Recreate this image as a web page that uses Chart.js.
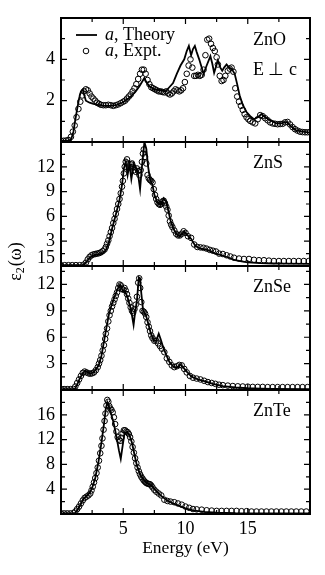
<!DOCTYPE html>
<html><head><meta charset="utf-8">
<script src="https://cdn.jsdelivr.net/npm/chart.js@4/dist/chart.umd.min.js"></script>
<style>html,body{margin:0;padding:0;background:#fff;}canvas{display:block;}</style>
</head><body>
<canvas id="c" width="325" height="575"></canvas>
<script>
// ---------- DATA ----------
const energyTickLabels = [5, 10, 15];
const panelNames = ['ZnO', 'ZnS', 'ZnSe', 'ZnTe'];
const znoTickLabels = [2, 4];
const znsTickLabels = [3, 6, 9, 12];
const znseTickLabels = [3, 6, 9, 12];
const znteTickLabels = [4, 8, 12, 16];

const znoTheory = [[0,0.05],[0.5,0.06],[0.8,0.1],[1.0,0.5],[1.1,0.9],[1.3,1.6],[1.45,2.1],[1.6,2.45],[1.75,2.55],[1.85,2.3],[2.0,2.0],[2.3,1.9],[2.6,1.85],[3.0,1.8],[3.5,1.75],[4.0,1.75],[4.5,1.8],[4.9,1.9],[5.3,2.05],[5.6,2.2],[6.0,2.45],[6.3,2.7],[6.55,2.95],[6.7,3.1],[6.85,2.9],[7.1,2.7],[7.5,2.55],[8.0,2.5],[8.4,2.45],[8.7,2.65],[9.0,2.85],[9.3,3.3],[9.6,3.7],[9.9,4.0],[10.1,4.4],[10.27,4.65],[10.45,4.2],[10.6,4.5],[10.75,4.65],[10.9,4.35],[11.1,4.0],[11.3,3.6],[11.45,3.3],[11.7,3.7],[12.0,4.15],[12.15,3.8],[12.3,3.35],[12.6,3.95],[12.8,3.6],[12.95,3.45],[13.1,3.6],[13.3,3.75],[13.5,3.6],[13.7,3.55],[13.95,3.3],[14.15,2.8],[14.35,2.25],[14.6,1.8],[14.9,1.45],[15.2,1.25],[15.5,1.1],[15.8,1.2],[16.1,1.35],[16.4,1.2],[16.8,1.05],[17.3,0.9],[17.7,0.9],[18.1,0.97],[18.5,0.75],[18.9,0.56],[19.4,0.5],[20,0.45]];
const znoExpt = [[0,0.05],[0.2,0.06],[0.4,0.07],[0.6,0.1],[0.8,0.25],[0.95,0.5],[1.1,0.8],[1.25,1.2],[1.4,1.6],[1.55,1.95],[1.7,2.25],[1.85,2.45],[2.0,2.55],[2.15,2.5],[2.3,2.35],[2.45,2.2],[2.6,2.1],[2.75,2.0],[2.9,1.9],[3.05,1.85],[3.2,1.8],[3.4,1.78],[3.6,1.78],[3.8,1.8],[4.0,1.78],[4.2,1.75],[4.4,1.78],[4.6,1.82],[4.8,1.88],[5.0,1.95],[5.15,2.0],[5.3,2.1],[5.45,2.2],[5.6,2.3],[5.75,2.45],[5.9,2.6],[6.05,2.8],[6.2,3.05],[6.35,3.3],[6.5,3.5],[6.65,3.5],[6.8,3.3],[6.95,3.0],[7.1,2.8],[7.25,2.65],[7.4,2.6],[7.55,2.55],[7.7,2.5],[7.85,2.45],[8.0,2.45],[8.15,2.42],[8.3,2.4],[8.45,2.45],[8.6,2.35],[8.75,2.3],[8.9,2.35],[9.05,2.45],[9.2,2.55],[9.35,2.5],[9.5,2.45],[9.65,2.5],[9.8,2.6],[9.95,2.9],[10.1,3.3],[10.25,3.7],[10.4,4.0],[10.55,3.6],[10.7,3.2],[10.85,3.2],[11.0,3.25],[11.15,3.2],[11.3,3.25],[11.45,3.5],[11.6,4.2],[11.75,4.95],[11.9,5.0],[12.05,4.75],[12.2,4.55],[12.35,4.4],[12.5,4.1],[12.6,3.75],[12.75,3.2],[12.9,2.95],[13.05,3.0],[13.2,3.2],[13.4,3.45],[13.55,3.55],[13.7,3.6],[13.85,3.4],[14.0,2.6],[14.15,2.2],[14.3,1.95],[14.45,1.75],[14.6,1.55],[14.75,1.35],[14.9,1.2],[15.05,1.1],[15.2,1.02],[15.4,0.95],[15.6,0.9],[15.8,1.1],[16.0,1.3],[16.2,1.25],[16.4,1.15],[16.6,1.05],[16.8,0.95],[17.0,0.9],[17.2,0.88],[17.4,0.86],[17.6,0.87],[17.8,0.88],[18.0,0.95],[18.2,0.97],[18.4,0.85],[18.6,0.72],[18.8,0.62],[19.0,0.55],[19.2,0.5],[19.4,0.48],[19.6,0.47],[19.8,0.47],[20.0,0.48]];

const znsTheory = [[0,0.1],[1.8,0.1],[2.0,0.4],[2.3,1.0],[2.6,1.3],[3.0,1.4],[3.3,1.5],[3.6,1.9],[3.85,2.9],[4.1,4.5],[4.4,6.2],[4.7,8.0],[4.9,9.8],[5.05,11.8],[5.2,12.6],[5.35,11.0],[5.5,12.3],[5.65,10.5],[5.85,12.4],[6.05,11.8],[6.2,11.0],[6.35,9.3],[6.5,12.0],[6.7,15.0],[6.85,14.2],[7.0,12.0],[7.15,10.5],[7.35,9.8],[7.5,8.6],[7.75,7.7],[8.0,7.4],[8.25,8.2],[8.45,7.8],[8.6,6.8],[8.8,5.5],[9.0,4.6],[9.25,3.9],[9.5,3.6],[9.75,3.9],[9.9,4.2],[10.1,3.8],[10.45,3.3],[10.8,2.4],[11.2,2.1],[11.6,2.0],[12.0,1.8],[12.4,1.5],[12.9,1.3],[13.5,1.0],[14.0,0.7],[14.5,0.55],[15.0,0.45],[16.0,0.35],[17,0.3],[18,0.28],[20,0.25]];
const znsExpt = [[0,0.1],[0.3,0.1],[0.6,0.1],[0.9,0.1],[1.2,0.1],[1.5,0.1],[1.8,0.15],[2.0,0.4],[2.15,0.8],[2.3,1.1],[2.45,1.3],[2.6,1.4],[2.75,1.45],[2.9,1.5],[3.05,1.55],[3.2,1.65],[3.35,1.8],[3.5,2.0],[3.6,2.3],[3.7,2.7],[3.8,3.1],[3.9,3.6],[4.0,4.1],[4.1,4.6],[4.2,5.2],[4.3,5.7],[4.4,6.3],[4.5,6.9],[4.6,7.5],[4.7,8.1],[4.8,8.8],[4.9,9.6],[4.97,10.3],[5.05,11.2],[5.12,12.0],[5.2,12.6],[5.3,12.9],[5.4,12.4],[5.5,12.0],[5.6,12.3],[5.7,12.4],[5.8,12.0],[5.9,11.6],[6.0,11.4],[6.1,11.8],[6.2,11.5],[6.3,11.0],[6.4,11.6],[6.5,12.6],[6.58,13.6],[6.65,14.1],[6.75,13.2],[6.85,12.4],[6.95,11.0],[7.05,10.6],[7.15,10.4],[7.25,10.3],[7.35,10.1],[7.45,9.3],[7.55,8.6],[7.65,8.1],[7.75,7.7],[7.85,7.5],[7.95,7.4],[8.05,7.5],[8.15,7.8],[8.25,7.9],[8.35,7.6],[8.45,7.2],[8.55,6.8],[8.65,6.1],[8.75,5.4],[8.85,5.0],[8.95,4.7],[9.1,4.3],[9.25,3.9],[9.4,3.7],[9.55,3.7],[9.7,3.9],[9.85,4.2],[10.0,4.0],[10.2,3.6],[10.45,3.4],[10.7,2.6],[10.95,2.3],[11.2,2.25],[11.45,2.2],[11.7,2.1],[11.95,1.95],[12.2,1.85],[12.45,1.75],[12.7,1.5],[13.0,1.45],[13.3,1.3],[13.6,1.15],[13.9,1.0],[14.3,0.9],[14.7,0.85],[15.1,0.85],[15.5,0.75],[15.9,0.7],[16.3,0.7],[16.7,0.65],[17.1,0.6],[17.5,0.6],[17.9,0.6],[18.3,0.6],[18.7,0.6],[19.1,0.6],[19.5,0.6],[19.9,0.6]];

const znseTheory = [[0,0.1],[1.1,0.1],[1.3,0.6],[1.5,1.3],[1.75,1.9],[1.95,2.2],[2.15,2.0],[2.35,1.85],[2.6,2.0],[2.85,2.4],[3.05,2.9],[3.25,3.9],[3.45,5.5],[3.65,7.1],[3.85,8.6],[4.05,9.6],[4.3,10.6],[4.55,11.5],[4.75,12.0],[4.95,11.3],[5.15,11.2],[5.35,10.5],[5.55,9.5],[5.7,8.5],[5.83,7.4],[5.95,8.8],[6.1,10.2],[6.25,12.8],[6.35,12.7],[6.45,11.0],[6.6,9.0],[6.8,8.6],[7.0,7.6],[7.2,6.5],[7.45,5.6],[7.65,5.6],[7.85,6.4],[8.0,5.8],[8.2,4.9],[8.45,4.0],[8.7,3.2],[9.0,2.7],[9.3,2.55],[9.6,2.9],[9.8,2.6],[10.1,2.1],[10.5,1.5],[11.0,1.2],[11.5,1.0],[12.2,0.7],[13,0.45],[14,0.3],[15,0.2],[16,0.15],[17,0.12],[20,0.1]];
const znseExpt = [[0,0.1],[0.25,0.1],[0.5,0.1],[0.75,0.1],[1.0,0.12],[1.15,0.4],[1.3,0.8],[1.45,1.2],[1.6,1.6],[1.75,1.95],[1.9,2.1],[2.05,2.0],[2.2,1.9],[2.35,1.85],[2.5,1.9],[2.65,2.0],[2.8,2.25],[2.95,2.6],[3.05,3.0],[3.15,3.4],[3.25,3.9],[3.35,4.5],[3.45,5.1],[3.55,5.8],[3.6,6.4],[3.7,7.0],[3.8,7.8],[3.9,8.5],[4.0,9.0],[4.1,9.5],[4.2,9.9],[4.3,10.3],[4.4,10.7],[4.5,11.1],[4.6,11.6],[4.7,12.0],[4.8,11.9],[4.9,11.5],[5.0,11.4],[5.1,11.6],[5.2,11.3],[5.3,10.9],[5.4,10.4],[5.5,9.9],[5.6,9.4],[5.7,9.0],[5.8,8.8],[5.9,9.2],[6.0,9.7],[6.1,10.6],[6.2,12.2],[6.28,12.7],[6.36,11.6],[6.45,10.0],[6.55,9.0],[6.65,8.9],[6.75,8.7],[6.85,8.3],[6.95,7.7],[7.05,7.2],[7.15,6.7],[7.25,6.2],[7.35,5.9],[7.5,5.6],[7.65,5.6],[7.8,5.3],[7.95,5.0],[8.1,4.7],[8.3,4.3],[8.5,3.6],[8.7,3.2],[8.9,2.8],[9.1,2.6],[9.3,2.7],[9.5,2.85],[9.7,2.8],[9.9,2.4],[10.1,2.0],[10.35,1.6],[10.6,1.4],[10.9,1.3],[11.2,1.2],[11.5,1.05],[11.8,0.9],[12.1,0.8],[12.4,0.7],[12.7,0.6],[13.0,0.55],[13.4,0.5],[13.8,0.45],[14.2,0.42],[14.6,0.4],[15.0,0.38],[15.4,0.35],[15.8,0.35],[16.2,0.35],[16.6,0.33],[17.0,0.33],[17.4,0.33],[17.8,0.33],[18.2,0.33],[18.6,0.33],[19.0,0.33],[19.4,0.33],[19.8,0.33]];

const znteTheory = [[0,0.1],[1.1,0.1],[1.3,0.6],[1.5,1.3],[1.8,2.4],[2.1,3.0],[2.3,3.4],[2.5,4.2],[2.75,5.8],[3.0,8.3],[3.25,11.5],[3.45,14.5],[3.6,17.0],[3.72,18.0],[3.85,17.3],[4.05,16.0],[4.25,14.5],[4.45,12.5],[4.65,10.3],[4.8,8.9],[4.95,11.0],[5.1,13.0],[5.3,13.2],[5.5,12.7],[5.7,11.5],[5.9,9.6],[6.1,7.8],[6.35,6.4],[6.6,5.6],[6.85,5.0],[7.1,4.8],[7.35,4.4],[7.6,3.8],[8.0,3.0],[8.5,2.2],[9.0,1.7],[9.5,1.3],[10.0,0.9],[10.6,0.6],[11.5,0.35],[12.5,0.2],[14,0.12],[20,0.1]];
const znteExpt = [[0,0.1],[0.25,0.1],[0.5,0.1],[0.75,0.1],[1.0,0.15],[1.15,0.4],[1.3,0.8],[1.45,1.2],[1.6,1.7],[1.75,2.2],[1.9,2.6],[2.05,2.8],[2.2,3.0],[2.35,3.3],[2.45,3.8],[2.55,4.4],[2.65,5.1],[2.75,5.8],[2.85,6.6],[2.95,7.5],[3.05,8.6],[3.15,9.8],[3.25,11.0],[3.33,12.2],[3.42,13.6],[3.5,15.0],[3.57,16.2],[3.65,17.5],[3.72,18.4],[3.8,18.1],[3.88,17.4],[3.96,17.0],[4.05,16.8],[4.15,16.4],[4.25,15.6],[4.35,14.5],[4.45,13.3],[4.55,12.4],[4.65,12.0],[4.75,11.8],[4.85,12.3],[4.95,13.0],[5.05,13.5],[5.15,13.5],[5.25,13.3],[5.35,13.2],[5.45,12.9],[5.55,12.4],[5.65,11.7],[5.75,10.8],[5.85,9.9],[5.95,9.0],[6.05,8.2],[6.15,7.5],[6.25,6.9],[6.35,6.4],[6.45,6.0],[6.55,5.7],[6.65,5.4],[6.75,5.2],[6.85,5.0],[6.95,4.9],[7.05,4.85],[7.15,4.8],[7.25,4.6],[7.35,4.3],[7.5,3.9],[7.65,3.6],[7.85,3.3],[8.05,3.0],[8.3,2.3],[8.55,2.1],[8.8,2.0],[9.1,1.9],[9.4,1.7],[9.7,1.5],[10.0,1.2],[10.3,1.0],[10.6,0.8],[10.9,0.75],[11.3,0.7],[11.7,0.6],[12.1,0.55],[12.5,0.5],[12.9,0.5],[13.3,0.5],[13.7,0.5],[14.1,0.5],[14.5,0.45],[14.9,0.45],[15.3,0.4],[15.7,0.4],[16.1,0.4],[16.5,0.4],[16.9,0.4],[17.3,0.4],[17.7,0.4],[18.1,0.4],[18.5,0.4],[18.9,0.4],[19.3,0.4],[19.7,0.4]];

// ---------- CHART ----------
const FONT = '"Liberation Serif", "Times New Roman", serif';
const pts = a => a.map(p => ({x: p[0], y: p[1]}));
const near = (list, v) => list.some(l => Math.abs(l - v) < 1e-6);

const panels = [
  {id: 'y0', name: panelNames[0], theory: znoTheory,  expt: znoExpt,  max: 6,    step: 1,   labels: znoTickLabels,  weight: 4},
  {id: 'y1', name: panelNames[1], theory: znsTheory,  expt: znsExpt,  max: 15,   step: 1.5, labels: znsTickLabels,  weight: 3},
  {id: 'y2', name: panelNames[2], theory: znseTheory, expt: znseExpt, max: 14.1, step: 1.5, labels: znseTickLabels, weight: 2},
  {id: 'y3', name: panelNames[3], theory: znteTheory, expt: znteExpt, max: 20,   step: 2,   labels: znteTickLabels, weight: 1}
];

const datasets = [];
panels.forEach(p => {
  datasets.push({label: p.name + ' theory', data: pts(p.theory), yAxisID: p.id, borderColor: '#000', borderWidth: 1.8, pointRadius: 0, tension: 0, fill: false, order: 2});
  datasets.push({label: p.name + ' expt', data: pts(p.expt), yAxisID: p.id, showLine: false, pointRadius: 2.8, pointBorderWidth: 1, pointBorderColor: '#000', pointBackgroundColor: 'rgba(255,255,255,0)', order: 1});
});

const scales = {
  x: {
    type: 'linear', min: 0, max: 20, position: 'bottom',
    ticks: {stepSize: 2.5, autoSkip: false, maxRotation: 0, color: '#000', padding: 4,
      font: {family: FONT, size: 18},
      callback: v => near(energyTickLabels, v) ? String(v) : ''},
    grid: {display: false, drawTicks: false}, border: {display: false},
    title: {display: true, text: 'Energy (eV)', color: '#000', font: {family: FONT, size: 17.5}, padding: {top: 0, bottom: 0}},
    afterFit: s => { s.height = 45; }
  }
};
panels.forEach(p => {
  scales[p.id] = {
    type: 'linear', position: 'left', stack: 'panels', stackWeight: 1, weight: p.weight,
    min: 0, max: p.max,
    ticks: {stepSize: p.step, autoSkip: false, color: '#000', padding: 6,
      font: {family: FONT, size: 18},
      callback: v => near(p.labels, v) ? String(v) : ''},
    grid: {display: false, drawTicks: false}, border: {display: false},
    afterFit: s => { s.width = 61; }
  };
});

const decor = {
  id: 'decor',
  afterDraw(chart) {
    const ctx = chart.ctx, xs = chart.scales.x;
    const L = chart.chartArea.left, R = chart.chartArea.right;
    ctx.save();
    ctx.strokeStyle = '#000'; ctx.fillStyle = '#000';
    panels.forEach(p => {
      const s = chart.scales[p.id];
      const T = s.top, B = s.bottom;
      ctx.lineWidth = 1.2;
      ctx.beginPath();
      for (let i = 1; i * p.step < p.max - 1e-6; i++) {
        const v = i * p.step, y = s.getPixelForValue(v);
        const len = near(p.labels, v) ? 6 : 4;
        ctx.moveTo(L, y); ctx.lineTo(L + len, y);
        ctx.moveTo(R, y); ctx.lineTo(R - len, y);
      }
      for (let e = 2.5; e < 20; e += 2.5) {
        const x = xs.getPixelForValue(e);
        const len = near(energyTickLabels, e) ? 6 : 4;
        ctx.moveTo(x, B); ctx.lineTo(x, B - len);
        ctx.moveTo(x, T); ctx.lineTo(x, T + len);
      }
      ctx.stroke();
      ctx.lineWidth = 2;
      ctx.strokeRect(L, T, R - L, B - T);
      ctx.font = '18px ' + FONT; ctx.textAlign = 'left'; ctx.textBaseline = 'middle';
      ctx.fillText(p.name, 253, T + (p.id === 'y0' ? 22 : 21));
    });
    const s0 = chart.scales.y0;
    ctx.font = '18px ' + FONT;
    ctx.fillText('E \u22A5 c', 253, s0.top + 52);
    const s2 = chart.scales.y2;
    ctx.textAlign = 'right';
    ctx.fillText('15', L - 6, s2.getPixelForValue(15));
    ctx.textAlign = 'left';
    const ly1 = s0.top + 17, ly2 = s0.top + 33;
    ctx.lineWidth = 1.8;
    ctx.beginPath(); ctx.moveTo(76, ly1); ctx.lineTo(97, ly1); ctx.stroke();
    ctx.lineWidth = 1;
    ctx.beginPath(); ctx.arc(86, ly2, 2.8, 0, Math.PI * 2); ctx.stroke();
    const drawLeg = (y, rest) => {
      ctx.font = 'italic 18px ' + FONT;
      ctx.fillText('a', 105, y);
      const w = ctx.measureText('a').width;
      ctx.font = '18px ' + FONT;
      ctx.fillText(', ' + rest, 105 + w, y);
    };
    drawLeg(ly1, 'Theory');
    drawLeg(ly2, 'Expt.');
    ctx.translate(16, 262);
    ctx.rotate(-Math.PI / 2);
    ctx.textAlign = 'left'; ctx.textBaseline = 'middle';
    ctx.font = '18px ' + FONT;
    const t1 = '\u03B5';
    const w1 = ctx.measureText(t1).width;
    ctx.font = '12px ' + FONT;
    const w2 = ctx.measureText('2').width;
    ctx.font = '18px ' + FONT;
    const w3 = ctx.measureText('(\u03C9)').width;
    const x0 = -(w1 + w2 + w3) / 2;
    ctx.fillText(t1, x0, 0);
    ctx.font = '12px ' + FONT;
    ctx.fillText('2', x0 + w1, 5);
    ctx.font = '18px ' + FONT;
    ctx.fillText('(\u03C9)', x0 + w1 + w2 + 1, 0);
    ctx.restore();
  }
};

new Chart(document.getElementById('c'), {
  type: 'line',
  data: {datasets},
  options: {
    responsive: false, animation: false, devicePixelRatio: 1,
    layout: {padding: {top: 18, right: 15, left: 0, bottom: 16}},
    plugins: {legend: {display: false}, tooltip: {enabled: false}},
    scales
  },
  plugins: [decor]
});
</script>
</body></html>
